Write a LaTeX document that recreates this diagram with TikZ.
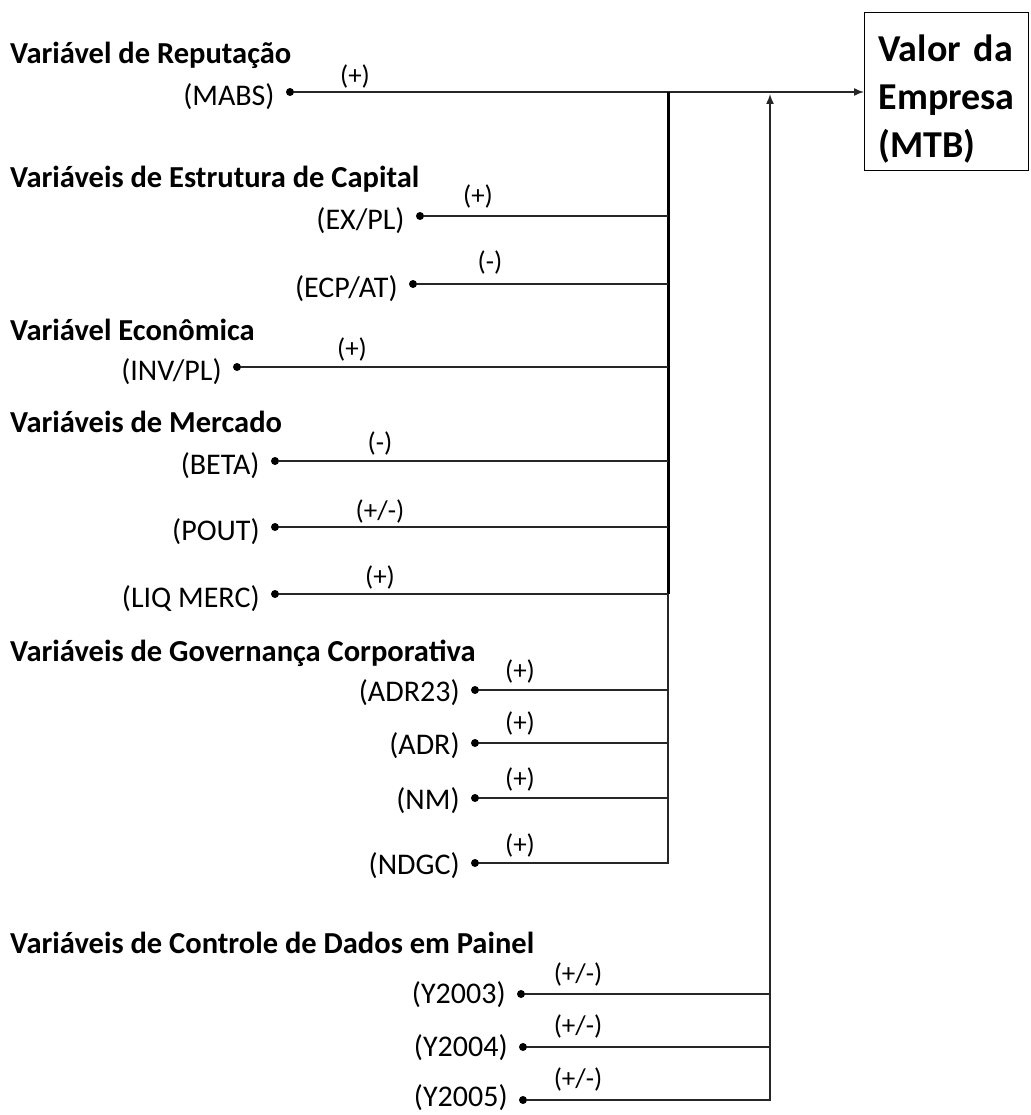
\documentclass[tikz,border=0pt]{standalone}
\usepackage{fontspec}
\setmainfont{Carlito}
\usetikzlibrary{arrows.meta, positioning}

\tikzset{
  grp/.style={anchor=base west,inner sep=0pt,font=\fontsize{30.5}{36}\selectfont\bfseries},
  var/.style={anchor=east,inner sep=0pt,font=\fontsize{30}{36}\selectfont},
  sgn/.style={inner sep=0pt,font=\fontsize{27}{32}\selectfont},
  dot/.style={circle,fill=black,inner sep=0pt,minimum size=8pt},
  wire/.style={line width=1.5pt,draw=black!85},
}

\begin{document}
\begin{tikzpicture}[x=1pt,y=-1pt]
  \useasboundingbox (0,0) rectangle (1030,1115);
  \coordinate (bus) at (668,0);
  \coordinate (ctl) at (770,0);

  % group titles
  \node[grp] (g1) at (10,64)  {Variável de Reputação};
  \node[grp] (g2) at (10,188) {Variáveis de Estrutura de Capital};
  \node[grp] (g3) at (10,340) {Variável Econômica};
  \node[grp] (g4) at (10,432) {Variáveis de Mercado};
  \node[grp] (g5) at (10,661) {Variáveis de Governança Corporativa};
  \node[grp] (g6) at (10,953) {Variáveis de Controle de Dados em Painel};

  % target box
  \node[draw,line width=1.2pt,anchor=north west,align=left,text width=136pt,
        inner xsep=14pt,minimum height=158pt,
        font=\fontsize{38}{48}\selectfont\bfseries]
        (mtb) at (864,12) {\rule{0pt}{42pt}Valor da\\Empresa\\(MTB)};

  % variable dots
  \node[dot] (mabs)  at (290,92)   {};
  \node[dot] (expl)  at (420,216)  {};
  \node[dot] (ecpat) at (413,284)  {};
  \node[dot] (invpl) at (237,367)  {};
  \node[dot] (beta)  at (275,461)  {};
  \node[dot] (pout)  at (275,527)  {};
  \node[dot] (liq)   at (275,594)  {};
  \node[dot] (adrb)  at (475,690)  {};
  \node[dot] (adr)   at (475,743)  {};
  \node[dot] (nm)    at (475,798)  {};
  \node[dot] (ndgc)  at (475,863)  {};
  \node[dot] (ya)    at (521,994)  {};
  \node[dot] (yb)    at (523,1047) {};
  \node[dot] (yc)    at (523,1100) {};

  % variable names
  \node[var,left=11pt of mabs,yshift=-5pt]  (mabsl)  {(MABS)};
  \node[var,left=11pt of expl,yshift=-5pt]  (expll)  {(EX/PL)};
  \node[var,left=11pt of ecpat,yshift=-5pt] (ecpatl) {(ECP/AT)};
  \node[var,left=11pt of invpl,yshift=-5pt] (invpll) {(INV/PL)};
  \node[var,left=11pt of beta,yshift=-5pt]  (betal)  {(BETA)};
  \node[var,left=11pt of pout,yshift=-5pt]  (poutl)  {(POUT)};
  \node[var,left=11pt of liq,yshift=-5pt]   (liql)   {(LIQ MERC)};
  \node[var,left=11pt of adrb,yshift=-3pt]  (adrbl)  {(ADR23)};
  \node[var,left=11pt of adr,yshift=-3pt]   (adrl)   {(ADR)};
  \node[var,left=11pt of nm,yshift=-3pt]    (nml)    {(NM)};
  \node[var,left=11pt of ndgc,yshift=-3pt]  (ndgcl)  {(NDGC)};
  \node[var,left=11pt of ya,yshift=-1pt]    (yal)    {(Y2003)};
  \node[var,left=11pt of yb,yshift=-1pt]    (ybl)    {(Y2004)};
  \node[var,left=11pt of yc,yshift=2pt]     (ycl)    {(Y2005)};

  % expected signs
  \node[sgn] (s1)  at (355,76)   {(+)};
  \node[sgn] (s2)  at (478,196)  {(+)};
  \node[sgn] (s3)  at (490,262)  {(-)};
  \node[sgn] (s4)  at (352,349)  {(+)};
  \node[sgn] (s5)  at (380,443)  {(-)};
  \node[sgn] (s6)  at (380,511)  {(+/-)};
  \node[sgn] (s7)  at (380,577)  {(+)};
  \node[sgn] (s8)  at (520,671)  {(+)};
  \node[sgn] (s9)  at (520,723)  {(+)};
  \node[sgn] (s10) at (520,779)  {(+)};
  \node[sgn] (s11) at (520,845)  {(+)};
  \node[sgn] (s12) at (578,974)  {(+/-)};
  \node[sgn] (s13) at (578,1026) {(+/-)};
  \node[sgn] (s14) at (578,1079) {(+/-)};

  % main path into the firm value box
  \draw[wire,-{Latex[length=10pt,width=8pt]}] (mabs) -- (mabs -| mtb.west);
  \draw[line width=3pt] (bus |- mabs) -- (bus |- liq);
  \draw[wire] (expl)  -- (expl -| bus);
  \draw[wire] (ecpat) -- (ecpat -| bus);
  \draw[wire] (invpl) -- (invpl -| bus);
  \draw[wire] (beta)  -- (beta -| bus);
  \draw[wire] (pout)  -- (pout -| bus);
  \draw[wire] (liq)   -- (liq -| bus);
  \draw[wire] (adrb)  -- (adrb -| bus);
  \draw[wire] (adr)   -- (adr -| bus);
  \draw[wire] (nm)    -- (nm -| bus);
  \draw[wire] (ndgc)  -- (ndgc -| bus) -- (bus |- liq);

  % panel controls
  \draw[wire] (ya) -- (ya -| ctl);
  \draw[wire] (yb) -- (yb -| ctl);
  \draw[wire,-{Latex[length=10pt,width=8pt]},shorten >=2pt]
        (yc) -- (yc -| ctl) -- (ctl |- mabs);
\end{tikzpicture}
\end{document}
